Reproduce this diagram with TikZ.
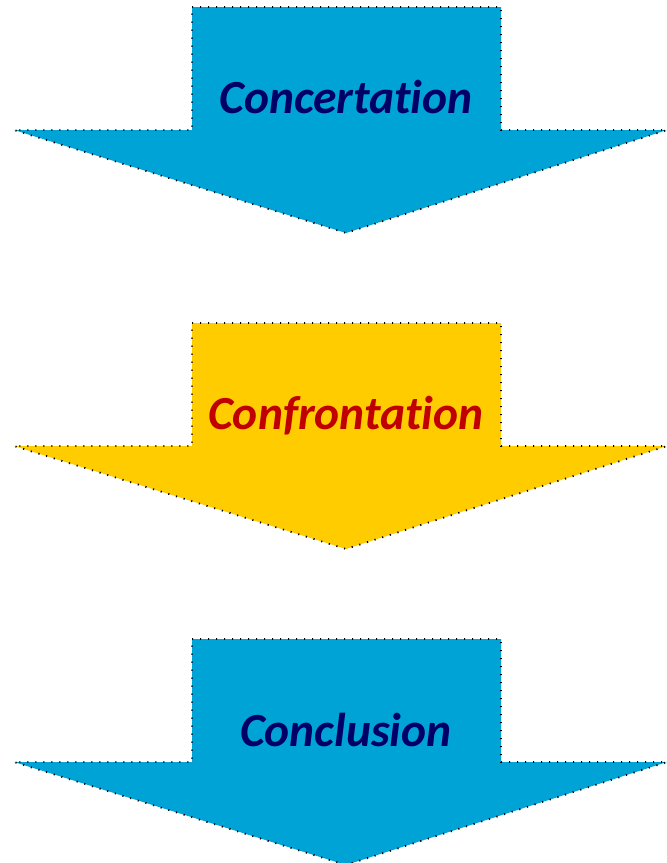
\documentclass[tikz,border=0pt]{standalone}
\usepackage{fontspec}
\setmainfont{Carlito}[Ligatures=NoCommon]
\usepackage{xcolor}
\usetikzlibrary{positioning}

\definecolor{arrowblue}{RGB}{0,163,214}
\definecolor{arrowyellow}{RGB}{255,204,0}
\definecolor{labelnavy}{RGB}{0,0,102}
\definecolor{labelred}{RGB}{192,0,0}

\begin{document}
\begin{tikzpicture}[x=1pt, y=-1pt,
    every node/.style={font=\fontsize{47.5}{54}\selectfont\bfseries\itshape, anchor=base},
    downarrow/.style={draw=black, line width=1.8pt, dash pattern=on 1.2pt off 6.8pt}]

\useasboundingbox (0,0) rectangle (667,863);

% Three block arrows, stacked
\foreach \dy/\fillc in {0/arrowblue, 316/arrowyellow, 632/arrowblue} {
    \draw[downarrow, fill=\fillc]
        (192,7+\dy) -- (501,7+\dy) -- (501,130+\dy) -- (667,130+\dy)
        -- (346,233+\dy) -- (14,130+\dy) -- (192,130+\dy) -- cycle;
}

% Labels
\node[labelnavy] (concertation) at (346,113) {Concertation};
\node[labelred] (confrontation) at (346,429) {Confrontation};
\node[labelnavy] (conclusion) at (346,746) {Conclusion};

\end{tikzpicture}
\end{document}
